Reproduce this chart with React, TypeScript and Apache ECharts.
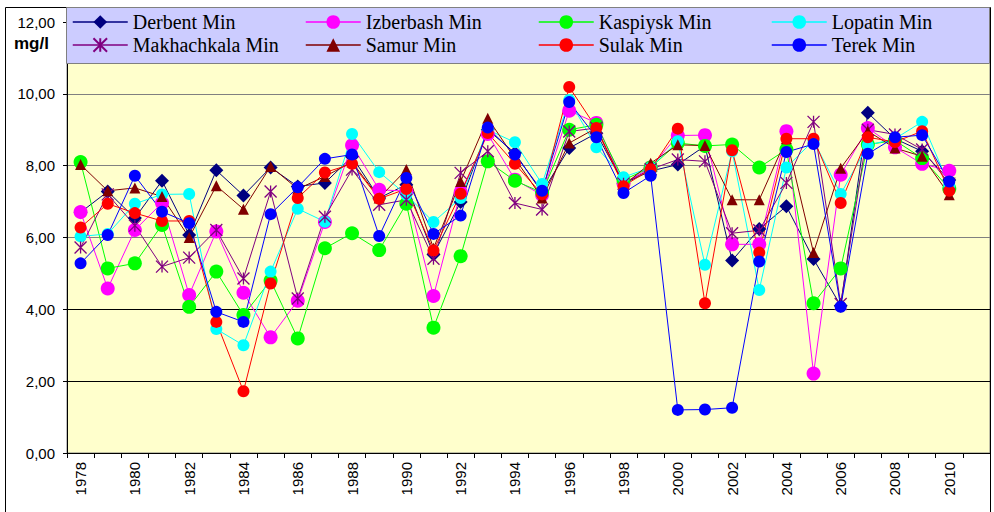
import React, { useEffect, useRef } from "react";
import * as echarts from "echarts";

const years = [
  "1978", "1979", "1980", "1981", "1982", "1983", "1984", "1985", "1986", "1987",
  "1988", "1989", "1990", "1991", "1992", "1993", "1994", "1995", "1996", "1997",
  "1998", "1999", "2000", "2001", "2002", "2003", "2004", "2005", "2006", "2007",
  "2008", "2009", "2010", "2011",
];

const derbentMin = [6.7, 7.28, 6.54, 7.58, 6.07, 7.87, 7.17, 7.95, 7.42, 7.52, 8.25, 7.1, 7.47, 5.53, 6.99, 9.0, 8.35, 7.25, 8.49, 8.9, 7.5, 7.85, 8.03, 8.55, 5.36, 6.24, 6.87, 5.4, 4.1, 9.47, 8.75, 8.4, 7.6];
const izberbashMin = [6.71, 4.58, 6.21, 6.96, 4.4, 6.17, 4.46, 3.22, 4.24, 6.43, 8.57, 7.33, 7.29, 4.37, 7.26, 8.88, 7.61, 7.18, 9.53, 9.19, 7.5, 7.95, 8.84, 8.85, 5.81, 5.81, 8.96, 2.21, 7.75, 9.05, 8.51, 8.05, 7.86];
const kaspiyskMin = [8.1, 5.14, 5.28, 6.35, 4.07, 5.05, 3.84, 4.8, 3.19, 5.7, 6.12, 5.65, 6.94, 3.49, 5.48, 8.12, 7.58, 7.25, 9.0, 9.14, 7.6, 7.95, 8.63, 8.55, 8.59, 7.95, 8.45, 4.17, 5.14, 8.59, 8.7, 8.21, 7.36];
const lopatinMin = [6.03, 6.1, 6.94, 7.2, 7.21, 3.45, 3.0, 5.05, 6.8, 6.44, 8.88, 7.82, 7.19, 6.43, 7.1, 9.0, 8.65, 7.49, 9.83, 8.51, 7.68, 7.95, 8.68, 5.24, 8.4, 4.54, 7.95, 8.7, 7.21, 8.57, 8.75, 9.22, 7.45];
const makhachkalaMin = [5.72, 7.2, 6.33, 5.19, 5.44, 6.21, 4.86, 7.28, 4.3, 6.58, 7.89, 6.91, 7.05, 5.41, 7.8, 8.4, 6.96, 6.78, 8.95, 9.05, 7.5, 7.9, 8.17, 8.12, 6.12, 6.2, 7.52, 9.22, 4.15, 9.0, 8.87, 8.45, 7.5];
const samurMin = [8.03, 7.3, 7.38, 7.14, 6.0, 7.44, 6.79, 7.98, 7.35, 7.7, 8.1, 7.1, 7.89, 5.7, 7.56, 9.32, 8.2, 7.1, 8.63, 9.05, 7.45, 8.07, 8.58, 8.56, 7.05, 7.05, 8.75, 5.58, 7.93, 8.96, 8.49, 8.26, 7.19];
const sulakMin = [6.28, 6.94, 6.68, 6.46, 6.46, 3.65, 1.72, 4.72, 7.1, 7.81, 8.05, 7.08, 7.35, 5.64, 7.22, 8.91, 8.05, 7.2, 10.19, 9.05, 7.43, 7.9, 9.03, 4.17, 8.43, 5.58, 8.75, 8.75, 6.96, 8.79, 8.66, 8.96, 7.3];
const terekMin = [5.28, 6.07, 7.72, 6.72, 6.4, 3.93, 3.65, 6.65, 7.4, 8.19, 8.31, 6.04, 7.66, 6.1, 6.61, 9.06, 8.31, 7.3, 9.77, 8.79, 7.24, 7.72, 1.2, 1.21, 1.26, 5.33, 8.38, 8.6, 4.07, 8.33, 8.79, 8.85, 7.56];

const seriesNames = [
  "Derbent Min", "Izberbash Min", "Kaspiysk Min", "Lopatin Min",
  "Makhachkala Min", "Samur Min", "Sulak Min", "Terek Min",
];
const seriesValues = [derbentMin, izberbashMin, kaspiyskMin, lopatinMin, makhachkalaMin, samurMin, sulakMin, terekMin];
const seriesColors = ["#000080", "#FF00FF", "#00FF00", "#00FFFF", "#800080", "#800000", "#FF0000", "#0000FF"];
const STAR = "path://M5,0L5,10M0,0L10,10M0,10L10,0";
const seriesSymbols = ["diamond", "circle", "circle", "circle", STAR, "triangle", "circle", "circle"];
const seriesSymbolSizes = [14, 14, 14, 12, 12, 11, 12, 12];
const yTicks = ["0,00", "2,00", "4,00", "6,00", "8,00", "10,00", "12,00"];

const SANS = '"Liberation Sans", Arial, sans-serif';
const SERIF = '"Liberation Serif", "Times New Roman", serif';

export default function App() {
  const ref = useRef<HTMLDivElement>(null);

  useEffect(() => {
    if (!ref.current) return;
    const chart = echarts.init(ref.current, null, { renderer: "svg" });

    const series = seriesNames.map((name, i) => ({
      name,
      type: "line",
      data: seriesValues[i],
      symbol: seriesSymbols[i],
      symbolSize: seriesSymbolSizes[i],
      color: seriesColors[i],
      lineStyle: { color: seriesColors[i], width: 1 },
      itemStyle:
        seriesSymbols[i] === STAR
          ? { color: seriesColors[i], borderColor: seriesColors[i], borderWidth: 1.3 }
          : { color: seriesColors[i], borderWidth: 0 },
      emphasis: { disabled: true },
      z: 2,
    }));

    const legends = seriesNames.map((name, i) => ({
      data: [name],
      left: 72 + 233 * (i % 4),
      top: i < 4 ? 12 : 35,
      padding: 0,
      itemWidth: 55,
      itemHeight: 17,
      selectedMode: false,
      lineStyle: { width: 1.5 },
      textStyle: { fontFamily: SERIF, fontSize: 20, color: "#000", lineHeight: 20 },
      z: 5,
    }));

    const option = {
      animation: false,
      backgroundColor: "#ffffff",
      grid: {
        left: 67,
        right: 4,
        top: 22,
        bottom: 59,
        show: true,
        backgroundColor: "#FFFFCC",
        borderColor: "#808080",
        borderWidth: 1,
      },
      legend: legends,
      xAxis: {
        type: "category",
        data: years,
        boundaryGap: true,
        axisLine: { show: true, lineStyle: { color: "#000", width: 1 } },
        axisTick: { show: true, interval: 0, length: 5, lineStyle: { color: "#000" } },
        axisLabel: {
          interval: 1,
          rotate: 90,
          fontSize: 15,
          fontFamily: SANS,
          color: "#000",
          margin: 9,
        },
        splitLine: { show: false },
      },
      yAxis: {
        type: "value",
        min: 0,
        max: 12,
        interval: 2,
        axisLine: { show: true, lineStyle: { color: "#000", width: 1 } },
        axisTick: { show: true, length: 4, lineStyle: { color: "#000" } },
        axisLabel: {
          formatter: (v: number) => yTicks[Math.round(v / 2)],
          fontSize: 15,
          fontFamily: SANS,
          color: "#000",
          margin: 12,
        },
        splitLine: {
          show: true,
          lineStyle: {
            color: ["#000000", "#000000", "#000000", "#808080", "#808080", "#808080", "#808080"],
            width: 1,
          },
        },
      },
      graphic: [
        {
          type: "rect",
          silent: true,
          z: 0,
          shape: { x: 5.5, y: 7.5, width: 985, height: 520 },
          style: { fill: "none", stroke: "#000", lineWidth: 1 },
        },
        {
          type: "rect",
          silent: true,
          z: 3,
          shape: { x: 66.5, y: 7.5, width: 923, height: 56 },
          style: { fill: "#CCCCFF", stroke: "#808080", lineWidth: 1 },
        },
        {
          type: "text",
          silent: true,
          z: 3,
          x: 14,
          y: 43,
          style: {
            text: "mg/l",
            font: 'bold 17px "Liberation Sans", Arial, sans-serif',
            fill: "#000",
            textVerticalAlign: "middle",
          },
        },
      ],
      series,
    };

    chart.setOption(option as any);
    return () => chart.dispose();
  }, []);

  return (
    <div
      ref={ref}
      style={{ position: "fixed", left: 0, top: 0, width: 994, height: 512, background: "#fff" }}
    />
  );
}
